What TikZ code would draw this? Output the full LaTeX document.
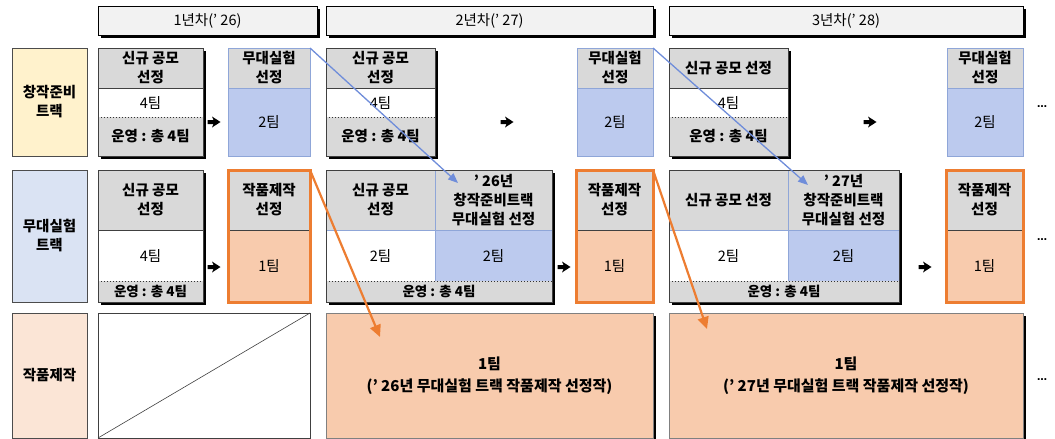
\documentclass[tikz,border=0pt]{standalone}
\usepackage{fontspec}
\setmainfont{Noto Sans CJK KR}
\newfontfamily\symfont{DejaVu Sans}
\usetikzlibrary{arrows.meta,calc,shadows}
\definecolor{hdr}{HTML}{D9D9D9}
\definecolor{yrfill}{HTML}{F2F2F2}
\definecolor{blu}{HTML}{BCCAEE}
\definecolor{pch}{HTML}{F8CBAD}
\definecolor{orng}{HTML}{ED7D31}
\definecolor{labY}{HTML}{FFF2CC}
\definecolor{labB}{HTML}{DAE3F3}
\definecolor{labP}{HTML}{FBE5D6}
\definecolor{bline}{HTML}{8FA6D8}
\definecolor{bconn}{HTML}{6F8DDA}
\definecolor{darkline}{HTML}{404040}
\newcommand\cell[7]{\node[cell,#6,minimum width=#4pt,minimum height=#5pt] (#1) at (#2,#3) {#7};}
% row 1, "new" box: name, x, width, header text
\newcommand\rowoneA[4]{%
  \node[cell,shd,fill=white,minimum width=#3pt,minimum height=108pt] (#1) at (#2,48) {};
  \cell{#1h}{#2}{48}{#3}{40}{fill=hdr,bf}{#4}
  \cell{#1m}{#2}{88}{#3}{29}{rg}{4팀}
  \cell{#1b}{#2}{117}{#3}{39}{fill=hdr,bf}{운영 : 총 4팀}
  \draw[thinln] (#1h.south west) -- (#1h.south east);
  \draw[dotln] (#1b.north west) -- (#1b.north east);
  \draw[thinln] (#1.north west) rectangle (#1.south east);}
% row 1, stage-test box: name, x, width
\newcommand\rowoneB[3]{%
  \node[cell,fill=blu,minimum width=#3pt,minimum height=108pt] (#1) at (#2,48) {};
  \cell{#1h}{#2}{48}{#3}{40}{fill=hdr,bf}{무대실험\\선정}
  \cell{#1m}{#2}{88}{#3}{68}{rg}{2팀}
  \draw[blueln] (#1h.south west) -- (#1h.south east);
  \draw[blueln] (#1.north west) rectangle (#1.south east);}
% row 2, production box: name, x, width
\newcommand\rowtwoC[3]{%
  \node[cell,fill=pch,minimum width=#3pt,minimum height=132pt] (#1) at (#2,170) {};
  \cell{#1h}{#2}{170}{#3}{60}{fill=hdr,bf}{작품제작\\선정}
  \cell{#1m}{#2}{230}{#3}{72}{rg}{1팀}
  \draw[thinln] (#1h.south west) -- (#1h.south east);
  \draw[orng,line width=3pt] (#1.north west) rectangle (#1.south east);}
% row 2, combined box: name, x, left width, right width, left header, right header
\newcommand\rowtwoD[6]{%
  \node[cell,shd,fill=white,minimum width={#3pt+#4pt},minimum height=132pt] (#1) at (#2,170) {};
  \cell{#1lh}{#2}{170}{#3}{60}{fill=hdr,bf}{#5}
  \cell{#1rh}{#2+#3}{170}{#4}{60}{fill=hdr,bf}{#6}
  \cell{#1lm}{#2}{230}{#3}{51}{rg}{2팀}
  \cell{#1rm}{#2+#3}{230}{#4}{51}{fill=blu,rg}{2팀}
  \cell{#1b}{#2}{281}{#3+#4}{21}{fill=hdr,bfs}{운영 : 총 4팀}
  \draw[blueln] (#1lh.south west) -- (#1rh.south east);
  \draw[blueln] (#1rh.north west) -- (#1rm.south west);
  \draw[dotln] (#1b.north west) -- (#1b.north east);
  \draw[thinln] (#1.north west) rectangle (#1.south east);}
\begin{document}
\begin{tikzpicture}[x=1pt,y=-1pt,
  every node/.style={inner sep=0pt,outer sep=0pt},
  cell/.style={anchor=north west,align=center},
  bf/.style={font=\fontsize{14.5}{19}\selectfont\bfseries},
  bfs/.style={font=\fontsize{13.5}{14}\selectfont\bfseries},
  bfl/.style={font=\fontsize{15}{22}\selectfont\bfseries},
  rg/.style={font=\fontsize{14.5}{19}\selectfont},
  shd/.style={drop shadow={shadow xshift=2.5pt,shadow yshift=-2.5pt,fill=black,opacity=1}},
  thinln/.style={draw=darkline,line width=0.6pt},
  blueln/.style={draw=bline,line width=0.7pt},
  dotln/.style={draw=black!80,line width=1pt,dotted},
  labbox/.style={cell,draw=black!70,line width=0.6pt,bf},
  arr/.style={minimum width=13pt,minimum height=11pt,
    path picture={\fill[black]
      ($(path picture bounding box.west)+(0,-2)$) -- ++(6,0) -- ++(-1.5,-3.5)
      -- (path picture bounding box.east)
      -- ($(path picture bounding box.west)+(4.5,5.5)$) -- ++(1.5,-3.5) -- ++(-6,0) -- cycle;}},
  dots/.style={font=\symfont\bfseries\fontsize{10}{10}\selectfont},
  bconnstyle/.style={draw=bconn,line width=1.3pt,-{Triangle[length=10pt,width=8pt]}},
  oconnstyle/.style={draw=orng,line width=2.2pt,-{Triangle[length=12pt,width=11pt]}}
]
\useasboundingbox (0,0) rectangle (1055,439);

% year headers
\cell{yr1}{98}{6}{219}{29}{shd,fill=yrfill,draw=black,line width=0.6pt,rg}{1년차(’ 26)}
\cell{yr2}{326}{6}{327}{29}{shd,fill=yrfill,draw=black,line width=0.6pt,rg}{2년차(’ 27)}
\cell{yr3}{669}{6}{354}{29}{shd,fill=yrfill,draw=black,line width=0.6pt,rg}{3년차(’ 28)}

% track labels
\cell{lab1}{12}{48}{75}{108}{labbox,fill=labY}{창작준비\\트랙}
\cell{lab2}{12}{170}{75}{132}{labbox,fill=labB}{무대실험\\트랙}
\cell{lab3}{12}{313}{75}{125}{labbox,fill=labP}{작품제작}

% row 1
\rowoneA{A1}{98}{105}{신규 공모\\선정}
\rowoneB{B1}{228}{82}
\rowoneA{A2}{326}{109}{신규 공모\\선정}
\rowoneB{B2}{577}{76}
\rowoneA{A3}{669}{119}{신규 공모 선정}
\rowoneB{B3}{947}{76}

% row 2
\node[cell,shd,fill=white,minimum width=105pt,minimum height=132pt] (R1) at (98,170) {};
\cell{R1h}{98}{170}{105}{60}{fill=hdr,bf}{신규 공모\\선정}
\cell{R1m}{98}{230}{105}{51}{rg}{4팀}
\cell{R1b}{98}{281}{105}{21}{fill=hdr,bfs}{운영 : 총 4팀}
\draw[thinln] (R1h.south west) -- (R1h.south east);
\draw[dotln] (R1b.north west) -- (R1b.north east);
\draw[thinln] (R1.north west) rectangle (R1.south east);
\rowtwoC{C1}{228}{82}
\rowtwoD{D2}{326}{109}{117}{신규 공모\\선정}{’ 26년\\창작준비트랙\\무대실험 선정}
\rowtwoC{C2}{576}{77}
\rowtwoD{D3}{669}{119}{111}{신규 공모 선정}{’ 27년\\창작준비트랙\\무대실험 선정}
\rowtwoC{C3}{946}{77}

% row 3
\node[cell,draw=darkline,line width=0.6pt,fill=white,minimum width=212pt,minimum height=125pt] (E1) at (98,313) {};
\draw[thinln] (E1.south west) -- (E1.north east);
\cell{P2}{326}{313}{327}{125}{shd,fill=pch,draw=gray,line width=0.6pt,bfl}{1팀\\(’ 26년 무대실험 트랙 작품제작 선정작)}
\cell{P3}{669}{313}{354}{125}{shd,fill=pch,draw=gray,line width=0.6pt,bfl}{1팀\\(’ 27년 무대실험 트랙 작품제작 선정작)}

% heavy arrows between boxes
\node[arr] (ar1) at (214,122) {};
\node[arr] (ar2) at (507,122) {};
\node[arr] (ar3) at (870,122) {};
\node[arr] (ar4) at (214,267) {};
\node[arr] (ar5) at (564,267) {};
\node[arr] (ar6) at (925,267) {};

% continuation marks
\node[dots] (dt1) at (1042,107) {…};
\node[dots] (dt2) at (1042,240) {…};
\node[dots] (dt3) at (1042,380) {…};

% connectors
\draw[bconnstyle] (B1.north east) -- ($(D2rh.north west)+(23,13)$);
\draw[bconnstyle] (B2.north east) -- ($(D3rh.north west)+(20,15)$);
\draw[oconnstyle] (C1.north east) -- ($(P2.north west)+(54,24)$);
\draw[oconnstyle] (C2.north east) -- ($(P3.north west)+(38,16)$);
\end{tikzpicture}
\end{document}
